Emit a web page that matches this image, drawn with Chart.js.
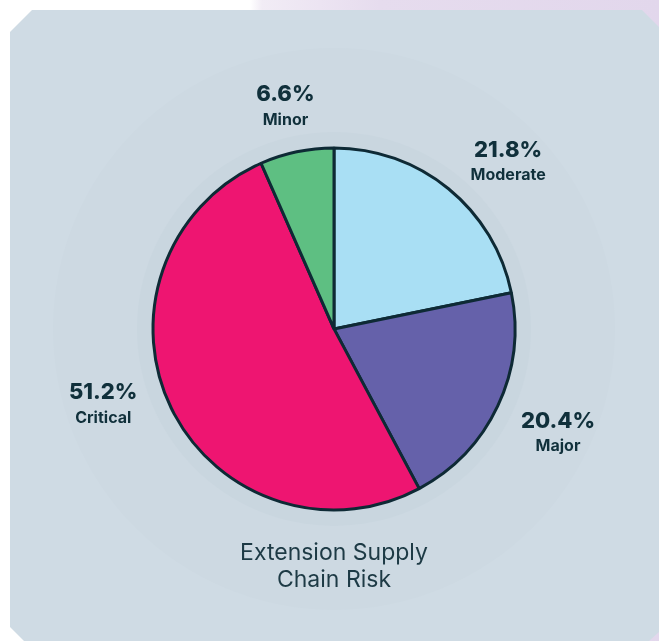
<!DOCTYPE html>
<html>
<head>
<meta charset="utf-8">
<script src="https://cdn.jsdelivr.net/npm/chart.js@4"></script>
<style>
  html, body { margin: 0; padding: 0; width: 659px; height: 641px; overflow: hidden; }
  body {
    background: linear-gradient(90deg, #ffffff 0px, #ffffff 250px, #f1ecf5 262px, #ece4f2 320px, #e6dcee 380px, #e2d7ec 659px);
    position: relative;
  }
  #panel {
    position: absolute; left: 0; top: 0; width: 659px; height: 641px;
    background: #cfdbe4;
    clip-path: polygon(32px 10px, 642px 10px, 659px 27px, 659px 632px, 649px 641px, 24px 641px, 10px 627px, 10px 32px);
  }
  #chart { position: absolute; left: 0; top: 0; }
</style>
</head>
<body>
<div id="panel"></div>
<canvas id="chart" width="659" height="641"></canvas>
<script>
// Risk categories, clockwise from the top
const categories = ['Moderate', 'Major', 'Critical', 'Minor'];
const shares = [21.8, 20.4, 51.2, 6.6];
const sliceColors = ['#a9dff4', '#6561aa', '#ee1571', '#5ebf82'];
const titleLines = ['Extension Supply', 'Chain Risk'];

// Label placement: distance past the rim, plus small per-label nudges
const labelGap = 50;
const labelNudge = [[28, 12], [15, 6], [-23, -25], [-1, 4]];

const INK = '#10303b';

// Soft circular backdrops behind the pie (drawn before the title and slices)
const backdrop = {
  id: 'backdrop',
  beforeDraw(chart) {
    const arc = chart.getDatasetMeta(0).data[0];
    if (!arc) return;
    const ctx = chart.ctx;
    ctx.save();
    ctx.fillStyle = '#cdd9e2';
    ctx.beginPath();
    ctx.arc(arc.x, arc.y, 281, 0, Math.PI * 2);
    ctx.fill();
    ctx.fillStyle = '#c9d6df';
    ctx.beginPath();
    ctx.arc(arc.x, arc.y, arc.outerRadius + 16, 0, Math.PI * 2);
    ctx.fill();
    ctx.restore();
  }
};

// Percentage + category name outside each slice
const sliceLabels = {
  id: 'sliceLabels',
  afterDatasetsDraw(chart) {
    const ctx = chart.ctx;
    const meta = chart.getDatasetMeta(0);
    ctx.save();
    ctx.fillStyle = INK;
    ctx.textAlign = 'center';
    ctx.textBaseline = 'middle';
    meta.data.forEach((arc, i) => {
      const mid = (arc.startAngle + arc.endAngle) / 2;
      const d = arc.outerRadius + labelGap;
      const x = arc.x + Math.cos(mid) * d + labelNudge[i][0];
      const y = arc.y + Math.sin(mid) * d + labelNudge[i][1];
      ctx.font = '800 22px Inter';
      ctx.fillText(shares[i].toFixed(1) + '%', x, y - 12);
      ctx.font = 'bold 16px Inter';
      ctx.fillText(categories[i], x, y + 13);
    });
    ctx.restore();
  }
};

new Chart(document.getElementById('chart'), {
  type: 'pie',
  data: {
    labels: categories,
    datasets: [{
      data: shares,
      backgroundColor: sliceColors,
      borderColor: '#0e2a35',
      borderWidth: 3,
      radius: 181
    }]
  },
  options: {
    responsive: false,
    animation: false,
    devicePixelRatio: 1,
    radius: 181,
    rotation: 0,
    layout: { padding: { left: 9, right: 0, top: 118.5, bottom: 47.4 } },
    plugins: {
      legend: { display: false },
      tooltip: { enabled: false },
      title: {
        display: true,
        position: 'bottom',
        text: titleLines,
        color: '#1d3a45',
        font: { family: 'Inter', size: 23, weight: 'normal', lineHeight: 1.18 },
        padding: 0
      }
    }
  },
  plugins: [backdrop, sliceLabels]
});
</script>
</body>
</html>
